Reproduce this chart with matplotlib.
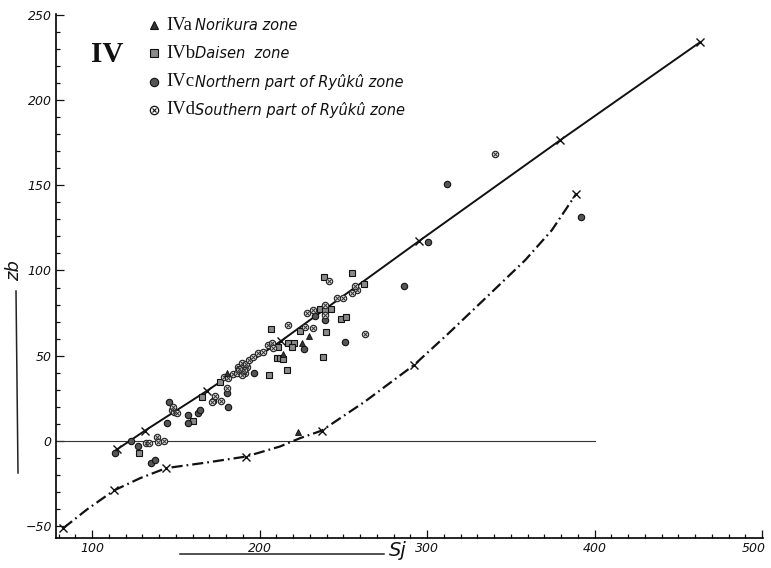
"""
Recreation of the scanned zb vs Sj plot (group IV zones).
"""
import matplotlib
matplotlib.use("Agg")
import matplotlib.pyplot as plt
import matplotlib.transforms as mtransforms
from matplotlib.ticker import MultipleLocator, FixedLocator
from matplotlib.lines import Line2D

W, H = 771, 568

# --- data -------------------------------------------------------------------
# IVa Norikura zone (triangles)
iva_x = [222.8, 214.2, 225.2, 229.7, 180.4]
iva_y = [5.3, 51.0, 57.6, 61.5, 39.7]

# IVb Daisen zone (squares)
ivb_x = [128.1, 160.1, 165.5, 176.4, 205.9, 210.3, 212.2, 213.9, 211.2, 217.2,
         220.6, 219.2, 216.2, 206.9, 224.2, 236.1, 242.5, 239.7, 237.7, 248.5,
         251.6, 262.6, 255.4, 238.5, 239.1]
ivb_y = [-7.2, 11.9, 26.0, 34.8, 38.7, 48.5, 48.8, 47.9, 55.3, 57.6,
         57.6, 54.9, 41.6, 65.5, 64.7, 77.4, 77.2, 64.1, 49.4, 71.3,
         72.5, 91.9, 98.7, 96.3, 76.8]

# IVc Northern part of Ryukyu zone (filled circles)
ivc_x = [113.7, 123.1, 127.7, 135.2, 137.6, 144.6, 146.2, 157.5, 157.5, 163.5,
         164.5, 181.4, 180.8, 172.4, 196.9, 226.6, 251.0, 286.5, 300.8, 312.1,
         391.8, 239.1, 233.1]
ivc_y = [-7.2, 0.2, -3.3, -12.7, -11.1, 10.4, 23.0, 15.2, 10.7, 16.2,
         18.2, 20.1, 28.0, 23.6, 39.7, 53.8, 58.2, 90.9, 116.8, 150.6,
         131.1, 70.9, 73.3]

# IVd Southern part of Ryukyu zone (crossed circles)
ivd_x = [132.2, 134.2, 139.0, 139.6, 143.0, 147.6, 149.0, 150.6, 148.5, 171.5,
         177.0, 173.6, 180.4, 178.8, 181.4, 184.4, 187.3, 189.4, 190.3, 188.4,
         191.3, 192.4, 186.4, 189.4, 190.5, 187.8, 191.8, 193.9, 196.3, 199.3,
         202.3, 205.3, 207.3, 208.2, 216.8, 227.2, 232.1, 228.2, 232.1, 239.1,
         239.1, 246.4, 249.7, 258.0, 257.0, 241.7, 263.0, 340.3, 255.0]
ivd_y = [-1.4, -1.4, 2.2, -0.4, 0.2, 18.2, 17.2, 16.6, 20.1, 23.0,
         23.6, 26.6, 30.9, 37.7, 37.1, 39.1, 43.6, 45.5, 42.6, 40.6,
         40.0, 43.6, 39.7, 38.7, 41.5, 42.0, 45.0, 47.5, 49.4, 51.4,
         52.3, 56.3, 57.3, 54.3, 68.0, 67.0, 66.1, 74.9, 76.8, 79.7,
         73.9, 83.6, 84.0, 88.5, 90.9, 94.0, 62.5, 168.2, 86.9]

# straight (solid) line, x marks along it
line_x = [113.0, 115.1, 131.6, 168.5, 212.8, 295.4, 379.4, 463.0]
line_y = [-6.3, -4.9, 6.0, 29.3, 58.6, 117.4, 176.4, 234.0]
line_mark_x = line_x[1:]
line_mark_y = line_y[1:]

# dash-dot curve, traced points and its x marks
curve_x = [82.9, 96.8, 113.1, 128.7, 144.2, 168.5, 191.9, 212.2, 224.2, 237.1,
           262.8, 292.2, 312.8, 334.7, 358.6, 374.5, 388.9]
curve_y = [-51.2, -40.4, -29.1, -21.9, -16.0, -12.7, -9.2, -3.3, 1.6, 6.0,
           23.0, 44.5, 63.1, 83.6, 106.1, 123.7, 144.8]
curve_mark_x = [82.9, 113.1, 144.2, 191.9, 237.1, 292.2, 388.9]
curve_mark_y = [-51.2, -29.1, -16.0, -9.2, 6.0, 44.5, 144.8]

zero_x = [78.5, 400.0]

legend_codes = ["a", "b", "c", "d"]
legend_names = ["Norikura zone", "Daisen  zone",
                "Northern part of Ryûkû zone", "Southern part of Ryûkû zone"]


def fx(px):
    return px / W


def fy(py):
    return 1 - py / H


def crossed(ax, x, y):
    ax.plot(x, y, linestyle="none", marker="o", markersize=4.6,
            markerfacecolor="#d8d8d8", markeredgecolor="#222", markeredgewidth=0.8)
    ax.plot(x, y, linestyle="none", marker="x", markersize=2.6,
            color="#333", markeredgewidth=0.7)


def main():
    fig = plt.figure(figsize=(W / 100, H / 100), dpi=100)
    ax = fig.add_axes([fx(56), fy(538), fx(763) - fx(56), fy(14) - fy(538)])
    ax.set_xlim(78.5, 500.5)
    ax.set_ylim(-57, 250.5)

    for s in ("top", "right"):
        ax.spines[s].set_visible(False)
    for s in ("left", "bottom"):
        ax.spines[s].set_linewidth(1.2)

    ax.xaxis.set_major_locator(FixedLocator([100, 200, 300, 400, 500]))
    ax.xaxis.set_minor_locator(MultipleLocator(10))
    ax.yaxis.set_major_locator(FixedLocator([-50, 0, 50, 100, 150, 200, 250]))
    ax.yaxis.set_minor_locator(MultipleLocator(10))
    ax.tick_params(which="both", direction="in", width=0.9, colors="#111")
    ax.tick_params(which="major", length=5.5, labelsize=9, pad=3)
    ax.tick_params(which="minor", length=2.8)
    fig.canvas.draw()
    for lab in ax.get_xticklabels() + ax.get_yticklabels():
        lab.set_fontstyle("italic")
    # keep the "500" label inside the canvas: right-align it, nudged 4 px right
    last = ax.xaxis.get_major_ticks()[-1].label1
    last.set_horizontalalignment("right")
    last.set_transform(last.get_transform() +
                       mtransforms.ScaledTranslation(0.04, 0, fig.dpi_scale_trans))

    # zero line
    ax.plot(zero_x, [0, 0], color="#333", linewidth=0.8)

    # solid line with x marks
    ax.plot(line_x, line_y, color="#111", linewidth=1.4)
    ax.plot(line_mark_x, line_mark_y, linestyle="none", marker="x",
            markersize=6, markeredgewidth=1.0, color="#111")

    # dash-dot curve with x marks
    ax.plot(curve_x, curve_y, color="#111", linewidth=1.6,
            dashes=(5, 1.8, 0.8, 1.8))
    ax.plot(curve_mark_x, curve_mark_y, linestyle="none", marker="x",
            markersize=6, markeredgewidth=1.0, color="#111")

    # points
    ax.plot(ivb_x, ivb_y, linestyle="none", marker="s", markersize=4.2,
            markerfacecolor="#8a8a8a", markeredgecolor="#111", markeredgewidth=0.8)
    ax.plot(ivc_x, ivc_y, linestyle="none", marker="o", markersize=4.6,
            markerfacecolor="#555", markeredgecolor="#111", markeredgewidth=0.8)
    crossed(ax, ivd_x, ivd_y)
    ax.plot(iva_x, iva_y, linestyle="none", marker="^", markersize=4.6,
            markerfacecolor="#333", markeredgecolor="#111", markeredgewidth=0.6)

    # legend block
    serif = ["Liberation Serif", "DejaVu Serif"]
    fig.text(fx(107), fy(55), "IV", family=serif, fontsize=21, weight="bold",
             ha="center", va="center", color="#111")
    rows = [25, 53, 82, 110]
    styles = [
        dict(marker="^", markersize=6, markerfacecolor="#333", markeredgecolor="#111"),
        dict(marker="s", markersize=5.5, markerfacecolor="#8a8a8a", markeredgecolor="#111"),
        dict(marker="o", markersize=6, markerfacecolor="#555", markeredgecolor="#111"),
        None,
    ]
    for py, code, name, st in zip(rows, legend_codes, legend_names, styles):
        if st is None:
            fig.add_artist(Line2D([fx(154)], [fy(py)], marker="o", markersize=6,
                                  markerfacecolor="white", markeredgecolor="#111",
                                  markeredgewidth=0.9, linestyle="none"))
            fig.add_artist(Line2D([fx(154)], [fy(py)], marker="x", markersize=3.4,
                                  color="#111", markeredgewidth=0.8, linestyle="none"))
        else:
            fig.add_artist(Line2D([fx(154)], [fy(py)], linestyle="none",
                                  markeredgewidth=0.8, **st))
        fig.text(fx(166), fy(py), "IV" + code, family=serif, fontsize=13.5,
                 ha="left", va="center", color="#111")
        fig.text(fx(195), fy(py), name, fontsize=10.5, style="italic",
                 ha="left", va="center", color="#111")

    # axis titles
    fig.text(fx(14), fy(271), "zb", rotation=90, fontsize=13, style="italic",
             ha="center", va="center", color="#111")
    fig.add_artist(Line2D([fx(16), fx(18)], [fy(291), fy(473)], color="#222", linewidth=1.1))
    fig.add_artist(Line2D([fx(180), fx(384)], [fy(554), fy(554)], color="#222", linewidth=1.1))
    fig.text(fx(398), fy(551), "Sj", fontsize=14, style="italic",
             ha="center", va="center", color="#111")

    fig.savefig("out.png", dpi=100)


if __name__ == "__main__":
    main()
